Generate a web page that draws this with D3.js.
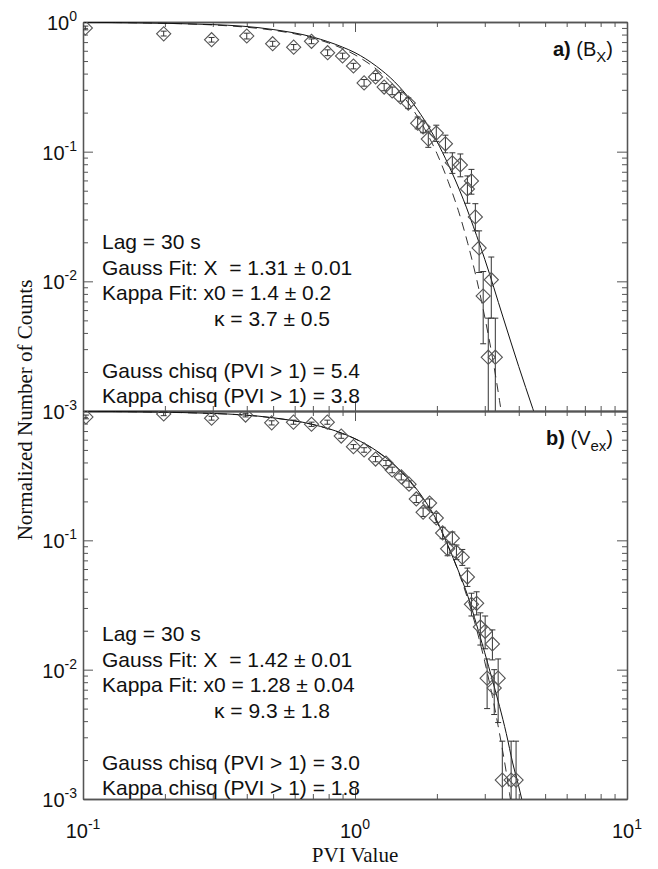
<!DOCTYPE html>
<html><head><meta charset="utf-8">
<script src="https://cdn.jsdelivr.net/npm/d3@7"></script>
<style>
html,body{margin:0;padding:0;background:#fff;}
svg{display:block;}
text{font-family:"Liberation Sans",Arial,sans-serif;fill:#111;white-space:pre;}
.serif{font-family:"Liberation Serif","Times New Roman",serif;}
</style></head>
<body>
<svg id="chart" width="658" height="869"></svg>
<script>
// ---------- DATA ----------
const xTickLabels = ["-1","0","1"];          // exponents at 10^-1, 10^0, 10^1
const yTickLabelsTop = ["0","-1","-2","-3"];
const yTickLabelsBot = ["-1","-2","-3"];

// Panel a) (B_X)
const topX  = [0.102,0.198,0.297,0.400,0.498,0.595,0.692,0.793,0.90,0.987,1.08,1.19,1.28,1.37,1.47,1.57,1.70,1.78,1.86,1.99,2.15,2.28,2.44,2.59,2.68,2.77,2.86,2.96,3.09,3.17,3.28];
const topY  = [0.90,0.81,0.73,0.78,0.68,0.64,0.71,0.58,0.547,0.458,0.339,0.377,0.315,0.294,0.264,0.237,0.166,0.155,0.125,0.139,0.115,0.082,0.079,0.0516,0.0595,0.0314,0.0181,0.0077,0.0026,0.0103,0.0026];
const topLo = [0.87,0.78,0.70,0.74,0.65,0.61,0.68,0.55,0.52,0.435,0.32,0.355,0.295,0.275,0.245,0.215,0.15,0.14,0.108,0.12,0.098,0.068,0.064,0.040,0.047,0.0245,0.0117,0.0033,0.0009,0.0052,0.0009];
const topHi = [0.93,0.85,0.76,0.82,0.71,0.67,0.74,0.61,0.575,0.48,0.36,0.40,0.335,0.315,0.285,0.26,0.185,0.172,0.144,0.16,0.134,0.098,0.096,0.065,0.073,0.0397,0.0245,0.0119,0.0052,0.0154,0.0052];

const topGaussX = [0.1,0.2,0.3,0.4,0.5,0.6,0.7,0.8,0.9,1.0,1.2,1.4,1.6,1.8,2.0,2.2,2.4,2.6,2.8,3.0,3.2,3.4,3.5];
const topGaussY = [0.994,0.977,0.949,0.911,0.864,0.811,0.752,0.689,0.624,0.558,0.432,0.319,0.225,0.151,0.097,0.059,0.035,0.0195,0.0104,0.0053,0.0026,0.0012,0.0008];
const topKappaX = [0.1,0.3,0.5,0.7,0.9,1.0,1.2,1.4,1.6,1.8,2.0,2.2,2.5,2.8,3.0,3.5,4.0,4.5,4.7];
const topKappaY = [0.995,0.955,0.875,0.765,0.64,0.58,0.455,0.345,0.25,0.175,0.12,0.08,0.043,0.0225,0.0148,0.0053,0.0022,0.00105,0.0008];

// Panel b) (V_ex)
const botX  = [0.1025,0.198,0.297,0.396,0.494,0.594,0.692,0.791,0.89,0.987,1.08,1.19,1.30,1.37,1.48,1.58,1.68,1.88,1.78,1.99,2.10,2.28,2.19,2.36,2.48,2.59,2.68,2.80,2.89,3.01,3.20,3.06,3.36,3.25,3.48,3.75,3.91];
const botY  = [0.90,0.95,0.88,0.93,0.81,0.82,0.79,0.82,0.64,0.53,0.50,0.425,0.396,0.35,0.309,0.272,0.209,0.194,0.165,0.149,0.114,0.104,0.086,0.081,0.074,0.052,0.032,0.0326,0.0214,0.0198,0.0158,0.0086,0.0086,0.0072,0.0014,0.0014,0.0014];
const botLo = [0.87,0.92,0.85,0.90,0.78,0.79,0.76,0.79,0.615,0.51,0.48,0.405,0.378,0.333,0.293,0.257,0.196,0.180,0.153,0.137,0.103,0.093,0.076,0.071,0.064,0.044,0.026,0.0265,0.0155,0.0145,0.0119,0.0050,0.0039,0.0045,0.0009,0.0009,0.0009];
const botHi = [0.93,0.98,0.91,0.96,0.84,0.85,0.82,0.85,0.665,0.55,0.52,0.445,0.415,0.368,0.326,0.288,0.223,0.209,0.178,0.162,0.126,0.116,0.097,0.092,0.085,0.061,0.039,0.040,0.0275,0.026,0.0203,0.0121,0.0121,0.0100,0.0028,0.0028,0.0028];

const botGaussX = [0.1,0.3,0.5,0.7,0.9,1.0,1.2,1.4,1.6,1.8,2.0,2.2,2.4,2.6,2.8,3.0,3.2,3.4,3.6,3.7,3.8];
const botGaussY = [0.995,0.956,0.884,0.785,0.669,0.609,0.490,0.378,0.281,0.201,0.138,0.0907,0.0574,0.035,0.0205,0.0115,0.0062,0.0032,0.0016,0.0011,0.00078];
const botKappaX = [0.1,0.3,0.5,0.7,0.9,1.0,1.2,1.4,1.6,1.8,2.0,2.2,2.4,2.6,2.8,3.0,3.2,3.4,3.6,3.8,4.0,4.2];
const botKappaY = [0.996,0.958,0.886,0.787,0.671,0.611,0.492,0.381,0.285,0.205,0.142,0.090,0.058,0.037,0.0222,0.0135,0.0083,0.0052,0.0032,0.0019,0.00125,0.0008];

const topNotes = ["Lag = 30 s","Gauss Fit: X  = 1.31 \u00b1 0.01","Kappa Fit: x0 = 1.4 \u00b1 0.2","\u03ba = 3.7 \u00b1 0.5","Gauss chisq (PVI > 1) = 5.4","Kappa chisq (PVI > 1) = 3.8"];
const botNotes = ["Lag = 30 s","Gauss Fit: X  = 1.42 \u00b1 0.01","Kappa Fit: x0 = 1.28 \u00b1 0.04","\u03ba = 9.3 \u00b1 1.8","Gauss chisq (PVI > 1) = 3.0","Kappa chisq (PVI > 1) = 1.8"];

// ---------- LAYOUT ----------
const L = 83, R = 627;
const panels = [
  {top:22, bot:411, X:topX, Y:topY, Lo:topLo, Hi:topHi, gx:topGaussX, gy:topGaussY, kx:topKappaX, ky:topKappaY, notes:topNotes, lab:["a)","(B","X",")"], ylabs:yTickLabelsTop, yvals:[1,0.1,0.01,0.001]},
  {top:411, bot:799, X:botX, Y:botY, Lo:botLo, Hi:botHi, gx:botGaussX, gy:botGaussY, kx:botKappaX, ky:botKappaY, notes:botNotes, lab:["b)","(V","ex",")"], ylabs:yTickLabelsBot, yvals:[0.1,0.01,0.001]}
];

const svg = d3.select("#chart");
const x = d3.scaleLog().domain([0.1,10]).range([L,R]);
const xMajor = [0.1,1,10];
const xMinor = x.ticks().filter(v => !xMajor.some(m => Math.abs(m-v)/m < 1e-6));
const axisColor = "#555";
const defs = svg.append("defs");

function styleAxis(g){
  g.select(".domain").attr("stroke",axisColor).attr("stroke-width",1.3);
  g.selectAll(".tick line").attr("stroke",axisColor).attr("stroke-width",1);
  g.selectAll(".tick text").remove();
}

panels.forEach((p,i) => {
  const y = d3.scaleLog().domain([1e-3,1]).range([p.bot,p.top]);
  const yMajor = [1,0.1,0.01,0.001];
  const yMinor = y.ticks().filter(v => !yMajor.some(m => Math.abs(m-v)/m < 1e-6));

  defs.append("clipPath").attr("id","clip"+i).append("rect")
    .attr("x",L).attr("y",p.top).attr("width",R-L).attr("height",p.bot-p.top);

  const mk = (axisFn, scale, vals, size, tr) => {
    svg.append("g").attr("transform",tr)
      .call(axisFn(scale).tickValues(vals).tickSize(size).tickSizeOuter(0).tickFormat(""))
      .call(styleAxis);
  };
  mk(d3.axisTop, x, xMajor, -10, `translate(0,${p.top})`);
  mk(d3.axisTop, x, xMinor, -5, `translate(0,${p.top})`);
  mk(d3.axisBottom, x, xMajor, -10, `translate(0,${p.bot})`);
  mk(d3.axisBottom, x, xMinor, -5, `translate(0,${p.bot})`);
  mk(d3.axisLeft, y, yMajor, -10, `translate(${L},0)`);
  mk(d3.axisLeft, y, yMinor, -5, `translate(${L},0)`);
  mk(d3.axisRight, y, yMajor, -10, `translate(${R},0)`);
  mk(d3.axisRight, y, yMinor, -5, `translate(${R},0)`);

  p.yvals.forEach((v,k) => {
    const t = svg.append("text").attr("x",77).attr("y",y(v)+8).attr("text-anchor","end").attr("font-size",20);
    t.append("tspan").text("10");
    t.append("tspan").attr("dy",-9).attr("font-size",14).text(p.ylabs[k]);
  });

  const plot = svg.append("g").attr("clip-path",`url(#clip${i})`);
  const line = d3.line().x(d => x(d[0])).y(d => y(d[1])).curve(d3.curveMonotoneX);

  plot.append("path").datum(d3.zip(p.gx,p.gy)).attr("d",line)
    .attr("fill","none").attr("stroke","#333").attr("stroke-width",1).attr("stroke-dasharray","9,6");
  plot.append("path").datum(d3.zip(p.kx,p.ky)).attr("d",line)
    .attr("fill","none").attr("stroke","#111").attr("stroke-width",1);

  const eb = plot.append("g").attr("stroke","#333").attr("stroke-width",1);
  p.X.forEach((xv,k) => {
    const cx = x(xv);
    eb.append("line").attr("x1",cx).attr("x2",cx).attr("y1",y(p.Lo[k])).attr("y2",y(p.Hi[k]));
    eb.append("line").attr("x1",cx-3).attr("x2",cx+3).attr("y1",y(p.Lo[k])).attr("y2",y(p.Lo[k]));
    eb.append("line").attr("x1",cx-3).attr("x2",cx+3).attr("y1",y(p.Hi[k])).attr("y2",y(p.Hi[k]));
  });

  const sym = d3.symbol().type(d3.symbolSquare).size(100);
  plot.append("g").selectAll("path").data(d3.zip(p.X,p.Y)).join("path")
    .attr("d",sym)
    .attr("transform",d => `translate(${x(d[0])},${y(d[1])}) rotate(45)`)
    .attr("fill","none").attr("stroke","#555").attr("stroke-width",1.1);

  const base = p.top + 227;
  const offs = [0,26,51,77,129,154];
  p.notes.forEach((s,k) => {
    svg.append("text").attr("x", k===3 ? 214 : 102).attr("y", base + offs[k] + (i ? 3 : 0))
      .attr("font-size",21).text(s);
  });

  const lab = svg.append("text").attr("x",613).attr("y",p.top+34).attr("text-anchor","end").attr("font-size",20);
  lab.append("tspan").attr("font-weight","bold").text(p.lab[0]);
  lab.append("tspan").text(" " + p.lab[1]);
  lab.append("tspan").attr("dy",6).attr("font-size",15).text(p.lab[2]);
  lab.append("tspan").attr("dy",-6).text(p.lab[3]);
});

xMajor.forEach((v,k) => {
  const t = svg.append("text").attr("x",x(v)).attr("y",838).attr("text-anchor","middle").attr("font-size",20);
  t.append("tspan").text("10");
  t.append("tspan").attr("dy",-9).attr("font-size",14).text(xTickLabels[k]);
});

svg.append("text").attr("class","serif").attr("x",355).attr("y",862).attr("text-anchor","middle")
  .attr("font-size",21).text("PVI Value");
svg.append("text").attr("class","serif").attr("transform","translate(32,410) rotate(-90)")
  .attr("text-anchor","middle").attr("font-size",21).text("Normalized Number of Counts");
</script>
</body></html>
